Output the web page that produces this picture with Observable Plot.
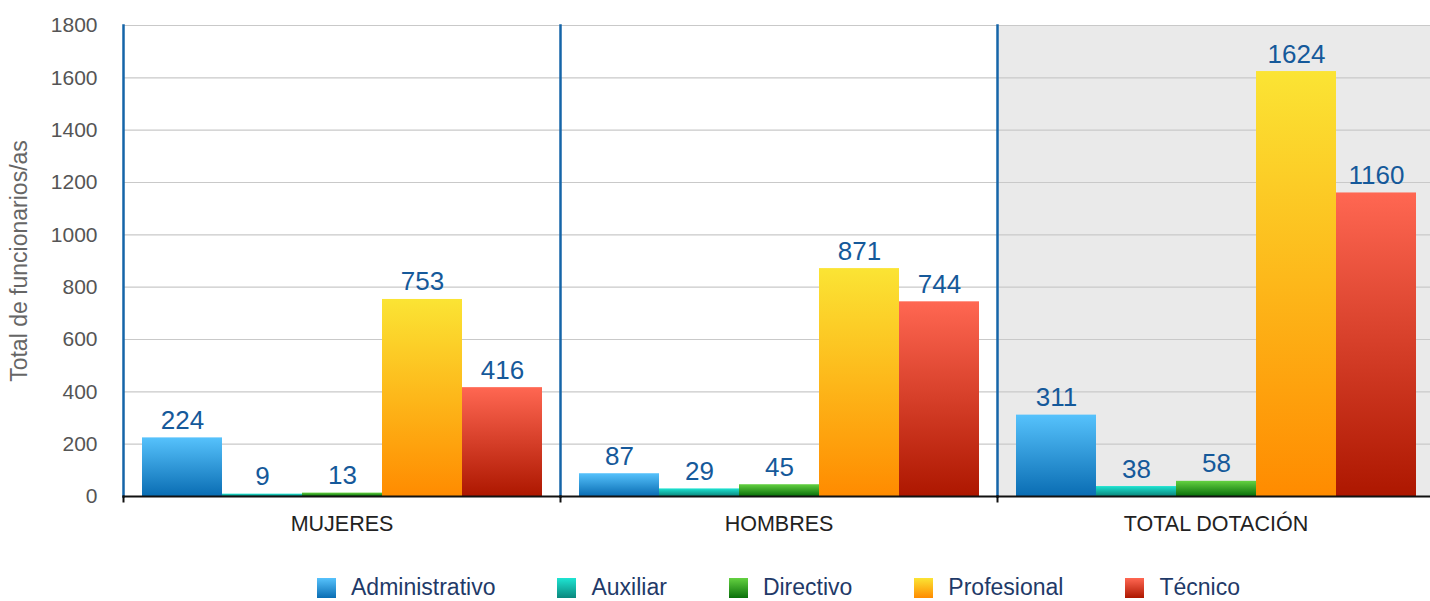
<!DOCTYPE html>
<html>
<head>
<meta charset="utf-8">
<script src="https://cdn.jsdelivr.net/npm/d3@7"></script>
<script src="https://cdn.jsdelivr.net/npm/@observablehq/plot@0.6"></script>
<style>
  html, body { margin: 0; padding: 0; background: #fff; overflow: hidden; }
  body { width: 1430px; height: 601px; font-family: "Liberation Sans", Arial, sans-serif; }
  #chart svg { max-width: none !important; display: block; }
  #legend { display: flex; justify-content: center; align-items: center; margin-left: 123px; width: 1311px; height: 41px; padding-top: 14px; box-sizing: border-box; }
  .item { display: flex; align-items: center; margin: 0 31px; }
  .sw { width: 19px; height: 20px; margin-right: 15px; }
  .lab { font-size: 23px; color: #1f3a68; }
</style>
</head>
<body>
<div id="chart"></div>
<div id="legend"></div>
<script>
const groups = ["MUJERES", "HOMBRES", "TOTAL DOTACIÓN"];
const categories = ["Administrativo", "Auxiliar", "Directivo", "Profesional", "Técnico"];
const mujeres = [224, 9, 13, 753, 416];
const hombres = [87, 29, 45, 871, 744];
const totalDotacion = [311, 38, 58, 1624, 1160];
const yTicks = [0, 200, 400, 600, 800, 1000, 1200, 1400, 1600, 1800];
const gradTop = ["#56c2fc", "#1ee4d2", "#64d141", "#fbe434", "#ff6752"];
const gradBottom = ["#0a6db3", "#0b877d", "#0a700a", "#ff8b00", "#ad1700"];

const series = [mujeres, hombres, totalDotacion];
const data = [];
groups.forEach((g, gi) => categories.forEach((c, ci) => data.push({group: g, category: c, value: series[gi][ci]})));

const gradIds = categories.map((c, i) => "grad" + i);

const plot = Plot.plot({
  width: 1434,
  height: 560,
  marginLeft: 123,
  marginRight: 0,
  marginTop: 25,
  marginBottom: 64,
  style: {fontFamily: "'Liberation Sans', Arial, sans-serif", background: "#fff", maxWidth: "none"},
  fx: {domain: groups, padding: 0},
  x: {domain: categories, paddingInner: 0, paddingOuter: 0.2, axis: null},
  y: {domain: [0, 1800]},
  color: {domain: categories, range: gradIds.map(id => `url(#${id})`)},
  marks: [
    Plot.barY([{group: "TOTAL DOTACIÓN"}], {fx: "group", y1: 0, y2: 1800, fill: "#eaeaea"}),
    Plot.gridY(yTicks, {stroke: "#c9c9c9", strokeOpacity: 1, strokeWidth: 1.2}),
    Plot.barY(data, {fx: "group", x: "category", y: "value", fill: "category"}),
    Plot.frame({anchor: "left", stroke: "#1565a8", strokeWidth: 2.5}),
    Plot.frame({anchor: "left", stroke: "#111", strokeWidth: 2, insetTop: 471, insetBottom: -5}),
    Plot.frame({anchor: "bottom", stroke: "#111", strokeWidth: 2}),
    Plot.axisY({ticks: yTicks, tickFormat: d => String(d), tickSize: 0, tickPadding: 26, fontSize: 21, fill: "#555", stroke: "#111", strokeWidth: 2, line: true, label: null}),
    Plot.axisY({ticks: [], tickSize: 0, label: "Total de funcionarios/as", labelArrow: "none", labelAnchor: "center", labelOffset: 113, fontSize: 23, fill: "#666"}),
    Plot.text(data, {fx: "group", x: "category", y: "value", text: d => String(d.value), dy: -9, lineAnchor: "bottom", fill: "#15599a", fontSize: 26}),
    Plot.axisFx({anchor: "bottom", tickSize: 0, tickPadding: 19, fontSize: 21.5, fill: "#222", label: null})
  ]
});

const svg = d3.select(plot);
svg.style("max-width", "none");
const defs = svg.insert("defs", ":first-child");
categories.forEach((c, i) => {
  const lg = defs.append("linearGradient").attr("id", gradIds[i]).attr("x1", 0).attr("y1", 0).attr("x2", 0).attr("y2", 1);
  lg.append("stop").attr("offset", "0%").attr("stop-color", gradTop[i]);
  lg.append("stop").attr("offset", "100%").attr("stop-color", gradBottom[i]);
});
document.getElementById("chart").appendChild(plot);

const legend = d3.select("#legend");
categories.forEach((c, i) => {
  const it = legend.append("div").attr("class", "item");
  it.append("div").attr("class", "sw").style("background", `linear-gradient(${gradTop[i]}, ${gradBottom[i]})`);
  it.append("span").attr("class", "lab").text(c);
});
</script>
</body>
</html>
